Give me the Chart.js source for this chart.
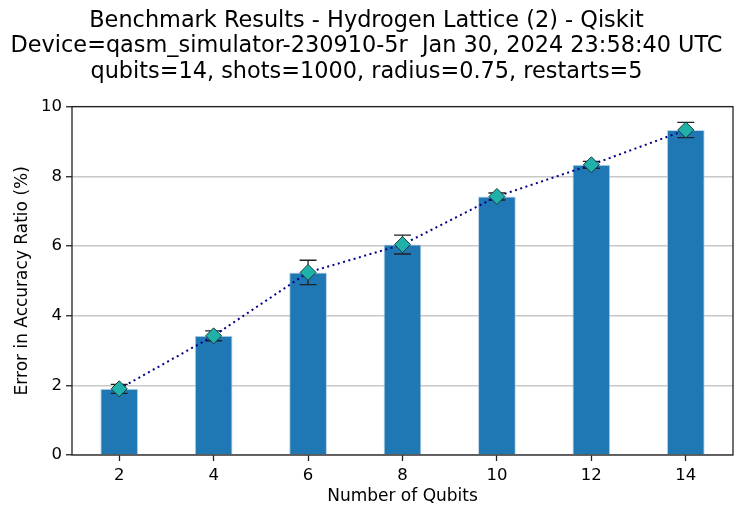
<!DOCTYPE html>
<html>
<head>
<meta charset="utf-8">
<script src="https://cdn.jsdelivr.net/npm/chart.js@4"></script>
<style>
  body { margin: 0; background: #fff; }
</style>
</head>
<body>
<canvas id="myChart" width="747" height="523"></canvas>
<script>
const qubits = ["2", "4", "6", "8", "10", "12", "14"];
const avgError = [1.90, 3.42, 5.24, 6.04, 7.42, 8.33, 9.33];
const errSpread = [0.13, 0.14, 0.35, 0.27, 0.10, 0.10, 0.22];
const yTicks = [0, 2, 4, 6, 8, 10];
const titleLines = [
    "Benchmark Results - Hydrogen Lattice (2) - Qiskit",
    "Device=qasm_simulator-230910-5r  Jan 30, 2024 23:58:40 UTC",
    "qubits=14, shots=1000, radius=0.75, restarts=5"
];

const FONT = "'DejaVu Sans', sans-serif";

// matplotlib-style error bars, drawn just before the marker line
const errorBars = {
    id: "errorBars",
    beforeDatasetDraw(chart, args) {
        if (args.index !== 1) return;
        const ctx = chart.ctx;
        const y = chart.scales.y;
        const meta = chart.getDatasetMeta(1);
        ctx.save();
        ctx.strokeStyle = "#222";
        ctx.lineWidth = 1.3;
        meta.data.forEach((pt, i) => {
            const top = y.getPixelForValue(avgError[i] + errSpread[i]);
            const bot = y.getPixelForValue(avgError[i] - errSpread[i]);
            ctx.beginPath();
            ctx.moveTo(pt.x, top); ctx.lineTo(pt.x, bot);
            ctx.moveTo(pt.x - 8.5, top); ctx.lineTo(pt.x + 8.5, top);
            ctx.moveTo(pt.x - 8.5, bot); ctx.lineTo(pt.x + 8.5, bot);
            ctx.stroke();
        });
        ctx.restore();
    }
};

// box around the plot area
const frame = {
    id: "frame",
    afterDatasetsDraw(chart) {
        const a = chart.chartArea;
        const ctx = chart.ctx;
        ctx.save();
        ctx.strokeStyle = "#222";
        ctx.lineWidth = 1.3;
        ctx.strokeRect(a.left, a.top, a.right - a.left, a.bottom - a.top);
        ctx.restore();
    }
};

const ctx = document.getElementById("myChart").getContext("2d");

new Chart(ctx, {
    data: {
        labels: qubits,
        datasets: [
            {
                type: "bar",
                data: avgError,
                backgroundColor: "#1f77b4",
                borderColor: "rgba(170, 200, 230, 0.8)",
                borderWidth: 1,
                barPercentage: 0.4,
                categoryPercentage: 1.0,
                order: 2
            },
            {
                type: "line",
                data: avgError,
                borderColor: "#00008b",
                borderWidth: 2,
                borderDash: [2, 3.5],
                pointStyle: "rectRot",
                pointRadius: 8,
                pointBackgroundColor: "#20b2aa",
                pointBorderColor: "#1a3a3a",
                pointBorderWidth: 1,
                fill: false,
                tension: 0,
                order: 1
            }
        ]
    },
    options: {
        responsive: false,
        animation: false,
        layout: { padding: { left: 0, right: 14, top: 0, bottom: 16 } },
        plugins: {
            legend: { display: false },
            tooltip: { enabled: false },
            title: {
                display: true,
                text: titleLines,
                color: "#000",
                font: { family: FONT, size: 22.4, weight: "normal", lineHeight: 1.14 },
                padding: { top: 8, bottom: 22 }
            }
        },
        scales: {
            x: {
                offset: true,
                grid: {
                    offset: false,
                    drawOnChartArea: false,
                    tickColor: "#222",
                    tickLength: 6,
                    tickWidth: 1.3
                },
                border: { display: false },
                ticks: {
                    color: "#000",
                    padding: 5,
                    font: { family: FONT, size: 16.5 }
                },
                title: {
                    display: true,
                    text: "Number of Qubits",
                    color: "#000",
                    font: { family: FONT, size: 17 },
                    padding: { top: 4, bottom: 0 }
                },
                afterFit(scale) { scale.height = 52; }
            },
            y: {
                min: 0,
                max: 10,
                afterBuildTicks(scale) { scale.ticks = yTicks.map(v => ({ value: v })); },
                grid: {
                    color: "#c8c8c8",
                    lineWidth: 1.5,
                    tickColor: "#222",
                    tickLength: 6,
                    tickWidth: 1.3
                },
                border: { display: false },
                ticks: {
                    color: "#000",
                    padding: 4,
                    font: { family: FONT, size: 16.5 }
                },
                title: {
                    display: true,
                    text: "Error in Accuracy Ratio (%)",
                    color: "#000",
                    font: { family: FONT, size: 17 },
                    padding: { top: 12, bottom: 4 }
                },
                afterFit(scale) { scale.width = 72; }
            }
        }
    },
    plugins: [errorBars, frame]
});
</script>
</body>
</html>
